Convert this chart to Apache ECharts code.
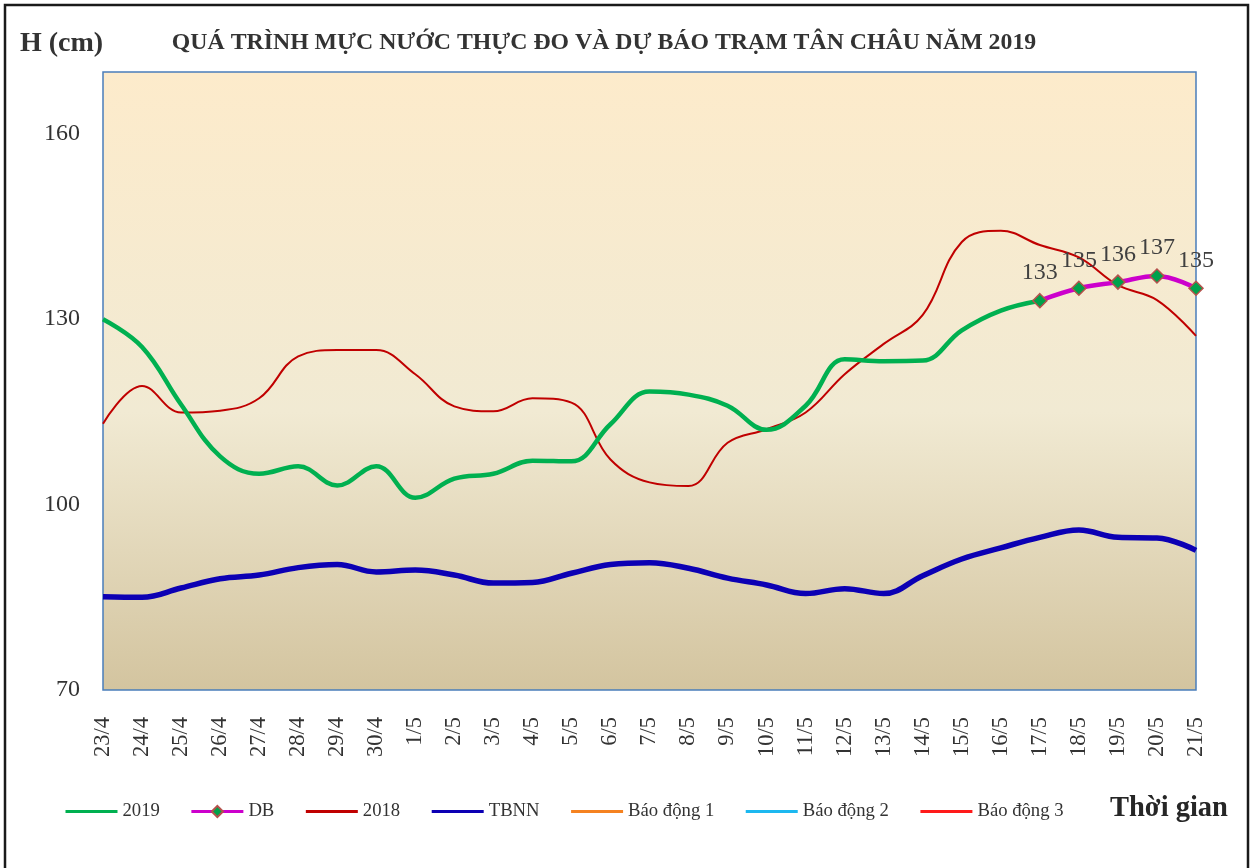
<!DOCTYPE html>
<html>
<head>
<meta charset="utf-8">
<title>Tan Chau 2019</title>
<script src="https://cdn.jsdelivr.net/npm/echarts@6/dist/echarts.min.js"></script>
<style>
  html, body { margin: 0; padding: 0; background: #ffffff; }
  #chart { width: 1256px; height: 868px; }
</style>
</head>
<body>
<div id="chart"></div>
<script>
  // ngay do
  var categories = ['23/4','24/4','25/4','26/4','27/4','28/4','29/4','30/4',
    '1/5','2/5','3/5','4/5','5/5','6/5','7/5','8/5','9/5','10/5','11/5','12/5',
    '13/5','14/5','15/5','16/5','17/5','18/5','19/5','20/5','21/5']

  // muc nuoc thuc do 2019 (cm)
  var h2019 = [130.0, 125.5, 116.2, 107.8, 105.0, 106.2, 103.1, 106.2, 101.1, 104.2,
    105.0, 107.1, 107.0, 113.0, 118.3, 117.8, 116.0, 112.1, 116.0, 123.5,
    123.2, 123.3, 128.2, 131.4, 133, null, null, null, null]

  // du bao
  var dbVals = [null, null, null, null, null, null, null, null, null, null,
    null, null, null, null, null, null, null, null, null, null,
    null, null, null, null, 133, 135, 136, 137, 135]

  // nam 2018
  var h2018 = [113.1, 119.2, 114.9, 115.2, 117.2, 124.0, 125.0, 125.0, 121.1, 115.9,
    115.1, 117.2, 116.5, 107.3, 103.6, 103.0, 110.0, 112.2, 114.9, 121.1,
    126.0, 130.7, 142.5, 144.3, 142.0, 140.0, 135.5, 133.1, 127.3]

  // trung binh nhieu nam
  var tbnn = [85.1, 85.0, 86.5, 88.0, 88.6, 89.8, 90.3, 89.1, 89.4, 88.6,
    87.3, 87.4, 88.9, 90.3, 90.6, 89.7, 88.1, 87.0, 85.6, 86.4,
    85.6, 88.5, 91.2, 93.0, 94.7, 95.9, 94.7, 94.6, 92.6]

  // bao dong: khong co so lieu trong khoang hien thi
  var bd1 = []
  var bd2 = []
  var bd3 = []

  var serif = 'Liberation Serif'
  var myChart = echarts.init(document.getElementById('chart'))

  // chu thich chi co duong, rieng DB co them hinh thoi
  var noMark = { opacity: 0 }

  var option = {
    animation: false,
    backgroundColor: '#ffffff',
    textStyle: { fontFamily: serif },
    graphic: [
      {
        type: 'rect',
        shape: { x: 5, y: 5, width: 1243, height: 870 },
        style: { fill: 'none', stroke: '#1a1a1a', lineWidth: 2.5 },
        silent: true
      },
      {
        type: 'text',
        x: 20, y: 44,
        style: { text: 'H (cm)', fontFamily: serif, fontSize: 28, fontWeight: 'bold', fill: '#333333', verticalAlign: 'middle' }
      },
      {
        type: 'text',
        x: 604, y: 43,
        style: { text: 'QUÁ TRÌNH MỰC NƯỚC THỰC ĐO VÀ DỰ BÁO TRẠM TÂN CHÂU NĂM 2019', fontFamily: serif, fontSize: 23.8, fontWeight: 'bold', fill: '#333333', align: 'center', verticalAlign: 'middle' }
      },
      {
        type: 'text',
        x: 1110, y: 809,
        style: { text: 'Thời gian', fontFamily: serif, fontSize: 28.5, fontWeight: 'bold', fill: '#262626', verticalAlign: 'middle' }
      }
    ],
    legend: {
      left: 59,
      top: 797,
      itemWidth: 52,
      itemHeight: 14,
      itemGap: 30,
      textStyle: { fontFamily: serif, fontSize: 18.7, color: '#333333' },
      lineStyle: { width: 3 },
      data: [
        { name: '2019', itemStyle: noMark },
        { name: 'DB' },
        { name: '2018', itemStyle: noMark },
        { name: 'TBNN', itemStyle: noMark },
        { name: 'Báo động 1', itemStyle: noMark },
        { name: 'Báo động 2', itemStyle: noMark },
        { name: 'Báo động 3', itemStyle: noMark }
      ]
    },
    grid: {
      left: 103,
      right: 60,
      top: 72,
      bottom: 178,
      show: true,
      borderColor: '#4A7EBB',
      borderWidth: 1.5,
      backgroundColor: new echarts.graphic.LinearGradient(0, 0, 0, 1, [
        { offset: 0, color: '#FDEBCB' },
        { offset: 0.55, color: '#F1EAD3' },
        { offset: 1, color: '#D3C49F' }
      ])
    },
    xAxis: {
      type: 'category',
      boundaryGap: false,
      data: categories,
      axisLine: { show: false },
      axisTick: { show: false },
      splitLine: { show: false },
      axisLabel: {
        rotate: 90,
        margin: 27,
        interval: 0,
        fontFamily: serif,
        fontSize: 22.5,
        color: '#333333'
      }
    },
    yAxis: {
      type: 'value',
      min: 70,
      max: 170,
      interval: 30,
      axisLine: { show: false },
      axisTick: { show: false },
      splitLine: { show: false },
      axisLabel: {
        showMaxLabel: false,
        margin: 23,
        fontFamily: serif,
        fontSize: 24,
        color: '#333333'
      }
    },
    series: [
      {
        name: '2019',
        type: 'line',
        data: h2019,
        smooth: 0.4,
        symbol: 'none',
        color: '#00B050',
        lineStyle: { width: 4.5, color: '#00B050' },
        z: 3
      },
      {
        name: 'DB',
        type: 'line',
        data: dbVals,
        smooth: 0.4,
        symbol: 'diamond',
        symbolSize: 14,
        color: '#CC00CC',
        lineStyle: { width: 4.5, color: '#CC00CC' },
        itemStyle: { color: '#00A14B', borderColor: '#B5514C', borderWidth: 1.5 },
        label: {
          show: true,
          position: 'top',
          distance: 8,
          fontFamily: serif,
          fontSize: 24,
          color: '#404040'
        },
        z: 4
      },
      {
        name: '2018',
        type: 'line',
        data: h2018,
        smooth: 0.4,
        symbol: 'none',
        color: '#C00000',
        lineStyle: { width: 2, color: '#C00000' },
        z: 2
      },
      {
        name: 'TBNN',
        type: 'line',
        data: tbnn,
        smooth: 0.4,
        symbol: 'none',
        color: '#0C00B4',
        lineStyle: { width: 5.5, color: '#0C00B4' },
        z: 2
      },
      {
        name: 'Báo động 1',
        type: 'line',
        data: bd1,
        symbol: 'none',
        color: '#F58220',
        lineStyle: { width: 2, color: '#F58220' }
      },
      {
        name: 'Báo động 2',
        type: 'line',
        data: bd2,
        symbol: 'none',
        color: '#1CB8F0',
        lineStyle: { width: 2, color: '#1CB8F0' }
      },
      {
        name: 'Báo động 3',
        type: 'line',
        data: bd3,
        symbol: 'none',
        color: '#FF1A1A',
        lineStyle: { width: 2, color: '#FF1A1A' }
      }
    ]
  }

  myChart.setOption(option)
</script>
</body>
</html>
